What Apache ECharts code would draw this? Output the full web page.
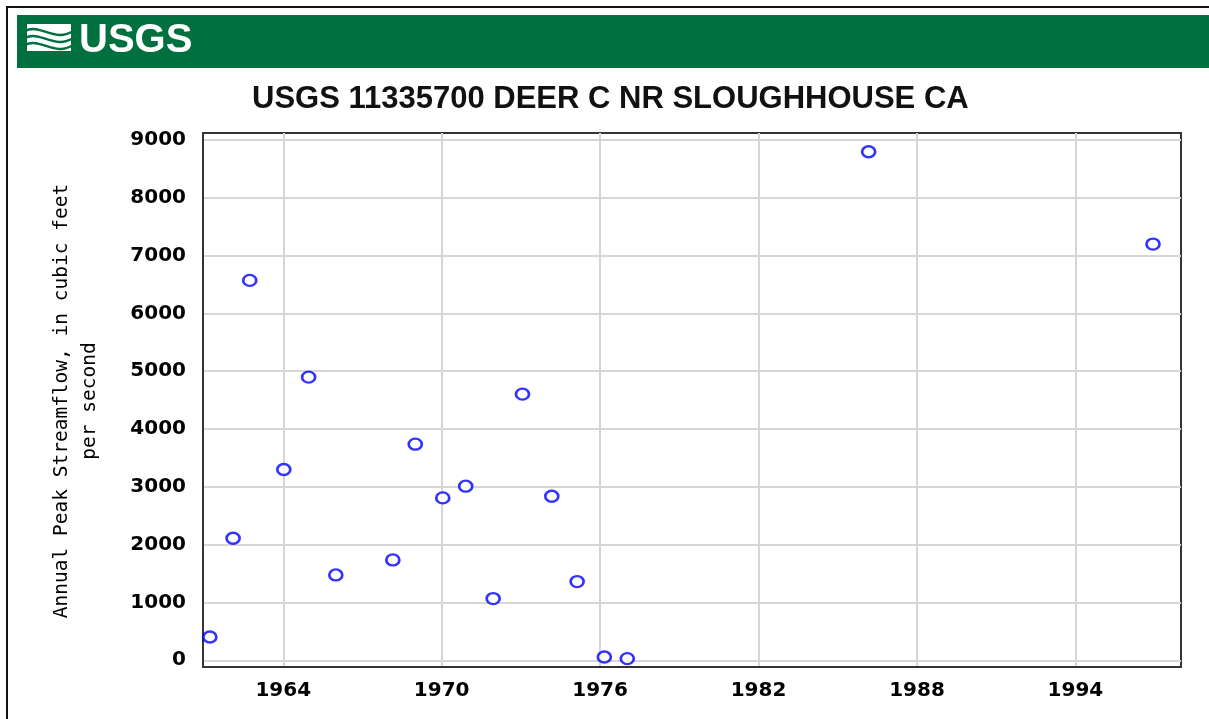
<!DOCTYPE html>
<html>
<head>
<meta charset="utf-8">
<script src="https://cdn.jsdelivr.net/npm/echarts@6/dist/echarts.min.js"></script>
<style>
  html, body { margin: 0; padding: 0; background: #fff; }
  #container { width: 1209px; height: 719px; }
</style>
</head>
<body>
<div id="container"></div>
<script>
var years = [1961.22, 1962.1, 1962.73, 1964.02, 1964.96, 1965.99, 1968.15, 1969.0, 1970.04,
             1970.91, 1971.95, 1973.06, 1974.17, 1975.13, 1976.16, 1977.03, 1986.17, 1996.94];
var peaks = [403, 2111, 6571, 3300, 4898, 1476, 1736, 3738, 2809,
             3011, 1068, 4604, 2838, 1362, 57, 29, 8797, 7200];
var yearTicks = [1964, 1970, 1976, 1982, 1988, 1994];
var flowTicks = [0, 1000, 2000, 3000, 4000, 5000, 6000, 7000, 8000, 9000];

var points = years.map(function (y, i) { return [y, peaks[i]]; });

var dom = document.getElementById("container");
var myChart = echarts.init(dom);
var tickFont = {
    fontFamily: 'DejaVu Sans',
    fontWeight: 'bold',
    fontSize: 20,
    color: '#000'
};
function plain(v) {
    return String(Math.round(v)); // no thousands separator
}
var option = {
    animation: false,
    backgroundColor: '#fff',
    grid: {
        left: 203,
        right: 28,
        top: 133,
        bottom: 52,
        show: true,
        borderColor: '#333',
        borderWidth: 2
    },
    graphic: [
        // page frame
        { type: 'line', shape: { x1: 6, y1: 7, x2: 1209, y2: 7 }, style: { stroke: '#111', lineWidth: 2 } },
        { type: 'line', shape: { x1: 7, y1: 6, x2: 7, y2: 719 }, style: { stroke: '#111', lineWidth: 2 } },
        // green banner
        { type: 'rect', shape: { x: 17, y: 15, width: 1192, height: 53 }, style: { fill: '#00703f' } },
        // logo waves
        { type: 'rect', shape: { x: 27, y: 24, width: 44, height: 27 }, style: { fill: '#fff' } },
        { type: 'bezierCurve', shape: { x1: 25, y1: 31, cpx1: 40, cpy1: 23, cpx2: 55, cpy2: 43, x2: 73, y2: 31 }, style: { stroke: '#00703f', lineWidth: 2.5, fill: null } },
        { type: 'bezierCurve', shape: { x1: 25, y1: 38, cpx1: 40, cpy1: 30, cpx2: 55, cpy2: 50, x2: 73, y2: 38 }, style: { stroke: '#00703f', lineWidth: 2.5, fill: null } },
        { type: 'bezierCurve', shape: { x1: 25, y1: 45, cpx1: 40, cpy1: 37, cpx2: 55, cpy2: 57, x2: 73, y2: 45 }, style: { stroke: '#00703f', lineWidth: 2.5, fill: null } },
        {
            type: 'text', left: 79, top: 21,
            style: { text: 'USGS', fill: '#fff', font: 'bold 40px "Liberation Sans"' }
        },
        // title
        {
            type: 'text', left: 252, top: 84,
            style: { text: 'USGS 11335700 DEER C NR SLOUGHHOUSE CA', fill: '#111', font: 'bold 31px "Liberation Sans"' }
        },
        // y axis name
        {
            type: 'text', x: 76, y: 401, rotation: Math.PI / 2,
            style: {
                text: 'Annual Peak Streamflow, in cubic feet\nper second',
                fill: '#000',
                font: '19.5px "DejaVu Sans Mono"',
                align: 'center',
                verticalAlign: 'middle',
                lineHeight: 28
            }
        }
    ],
    xAxis: {
        type: 'value',
        min: 1960.96,
        max: 1998,
        axisLine: { show: true, onZero: false, lineStyle: { color: '#333', width: 2 } },
        axisTick: { show: false, customValues: yearTicks },
        axisLabel: Object.assign({ customValues: yearTicks, margin: 14, formatter: plain }, tickFont),
        splitLine: { show: true, lineStyle: { color: '#d6d6d6', width: 2 } }
    },
    yAxis: {
        type: 'value',
        min: -116,
        max: 9121,
        axisLine: { show: true, onZero: false, lineStyle: { color: '#333', width: 2 } },
        axisTick: { show: false, customValues: flowTicks },
        axisLabel: Object.assign({ customValues: flowTicks, margin: 17, formatter: plain }, tickFont),
        splitLine: { show: true, lineStyle: { color: '#d6d6d6', width: 2 } }
    },
    series: [{
        name: 'Annual peak',
        type: 'scatter',
        data: points,
        symbol: 'circle',
        symbolSize: [13, 11],
        itemStyle: {
            color: '#fff',
            borderColor: '#0000ff',
            borderWidth: 2.5
        }
    }]
};
if (option && typeof option === "object") {
    myChart.setOption(option, true);
}
</script>
</body>
</html>
